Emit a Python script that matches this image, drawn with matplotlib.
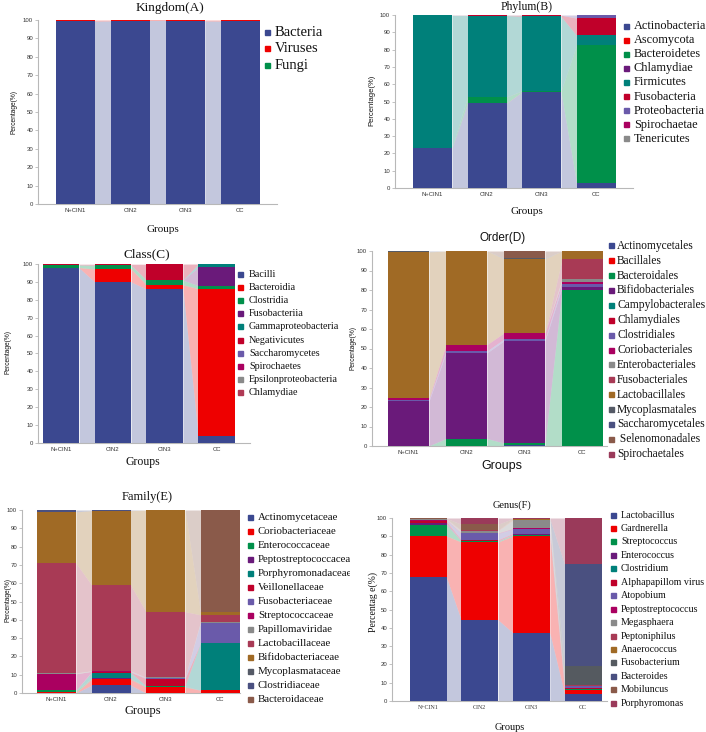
import numpy as np
import matplotlib
matplotlib.use("Agg")
import matplotlib.pyplot as plt
from matplotlib.patches import Rectangle
from matplotlib.transforms import Bbox, TransformedBbox

W, H = 706, 732
SERIF = "Liberation Serif"
SANS = "Liberation Sans"

groups = ["N+CIN1", "CIN2", "CIN3", "CC"]

# ---------------- data (percent, columns = groups) ----------------
A_taxa = ["Bacteria", "Viruses", "Fungi"]
A_values = [
    [99.4, 99.5, 99.5, 99.4],
    [0.6, 0.5, 0.5, 0.6],
    [0.0, 0.0, 0.0, 0.0],
]

B_taxa = ["Actinobacteria", "Ascomycota", "Bacteroidetes", "Chlamydiae", "Firmicutes",
          "Fusobacteria", "Proteobacteria", "Spirochaetae", "Tenericutes"]
B_values = [
    [23.0, 49.0, 55.5, 3.0],
    [0.1, 0.1, 0.1, 0.1],
    [0.2, 3.5, 0.5, 79.3],
    [0.1, 0.1, 0.1, 0.1],
    [76.4, 47.0, 43.0, 5.7],
    [0.1, 0.1, 0.7, 10.0],
    [0.1, 0.1, 0.1, 1.6],
    [0.0, 0.0, 0.0, 0.1],
    [0.0, 0.1, 0.0, 0.1],
]

C_taxa = ["Bacilli", "Bacteroidia", "Clostridia", "Fusobacteriia", "Gammaproteobacteria",
          "Negativicutes", "Saccharomycetes", "Spirochaetes", "Epsilonproteobacteria", "Chlamydiae"]
C_values = [
    [97.8, 90.0, 86.0, 4.1],
    [0.2, 7.2, 2.4, 82.1],
    [1.4, 2.0, 2.6, 1.7],
    [0.0, 0.0, 0.0, 10.2],
    [0.1, 0.1, 0.1, 1.8],
    [0.4, 0.6, 8.8, 0.1],
    [0.0, 0.0, 0.0, 0.0],
    [0.0, 0.0, 0.0, 0.0],
    [0.0, 0.0, 0.0, 0.0],
    [0.1, 0.1, 0.1, 0.0],
]

D_taxa = ["Actinomycetales", "Bacillales", "Bacteroidales", "Bifidobacteriales",
          "Campylobacterales", "Chlamydiales", "Clostridiales", "Coriobacteriales",
          "Enterobacteriales", "Fusobacteriales", "Lactobacillales", "Mycoplasmatales",
          "Saccharomycetales", " Selenomonadales", "Spirochaetales"]
D_values = [
    [0.0, 0.0, 0.3, 0.2],
    [0.0, 0.0, 0.0, 0.0],
    [0.1, 3.8, 1.2, 79.8],
    [22.9, 44.0, 52.4, 1.4],
    [0.0, 0.0, 0.0, 0.0],
    [0.0, 0.0, 0.0, 0.0],
    [0.8, 1.0, 1.0, 1.5],
    [0.7, 3.2, 3.1, 1.4],
    [0.0, 0.0, 0.0, 1.3],
    [0.0, 0.0, 0.0, 10.1],
    [75.0, 48.0, 38.0, 4.3],
    [0.3, 0.0, 0.4, 0.0],
    [0.2, 0.0, 0.0, 0.0],
    [0.0, 0.0, 3.6, 0.0],
    [0.0, 0.0, 0.0, 0.0],
]

E_taxa = ["Actinomycetaceae", "Coriobacteriaceae", "Enterococcaceae", "Peptostreptococcaceae",
          "Porphyromonadaceae", "Veillonellaceae", "Fusobacteriaceae", "Streptococcaceae",
          "Papillomaviridae", "Lactobacillaceae", "Bifidobacteriaceae", "Mycoplasmataceae",
          "Clostridiaceae", "Bacteroidaceae"]
E_values = [
    [0.0, 4.3, 0.0, 0.0],
    [0.3, 3.2, 3.3, 1.5],
    [1.2, 0.3, 0.4, 0.0],
    [0.0, 0.2, 0.1, 0.1],
    [0.0, 3.2, 0.1, 25.9],
    [0.0, 0.2, 4.0, 0.0],
    [0.0, 0.3, 0.3, 11.0],
    [9.0, 0.1, 0.1, 0.0],
    [0.5, 0.3, 0.2, 0.5],
    [60.0, 47.0, 36.0, 3.7],
    [28.0, 40.5, 55.5, 1.3],
    [0.0, 0.1, 0.0, 0.0],
    [1.0, 0.3, 0.0, 0.0],
    [0.0, 0.0, 0.0, 56.0],
]

F_taxa = ["Lactobacillus", "Gardnerella", "Streptococcus", "Enterococcus", "Clostridium",
          "Alphapapillom virus", "Atopobium", "Peptostreptococcus", "Megasphaera",
          "Peptoniphilus", "Anaerococcus", "Fusobacterium", "Bacteroides", "Mobiluncus",
          "Porphyromonas"]
F_values = [
    [67.6, 44.3, 37.3, 4.0],
    [22.6, 42.6, 52.9, 2.2],
    [6.2, 0.5, 0.6, 0.1],
    [0.8, 0.3, 0.3, 0.1],
    [0.1, 0.0, 0.0, 0.0],
    [0.8, 0.5, 0.4, 0.8],
    [0.5, 3.4, 2.5, 1.0],
    [0.4, 0.3, 0.3, 0.1],
    [0.3, 1.2, 4.6, 0.0],
    [0.2, 0.2, 0.2, 0.2],
    [0.1, 0.1, 0.4, 0.5],
    [0.0, 0.0, 0.0, 10.3],
    [0.0, 0.0, 0.0, 55.4],
    [0.2, 3.2, 0.2, 0.0],
    [0.2, 3.4, 0.3, 25.3],
]

# ---------------- palette ----------------
PAL = ["#3b4890", "#ee0000", "#00904a", "#6a1a7a", "#00807a", "#c0002a",
       "#6a5aaa", "#aa0060", "#8a8a8a", "#a83a55", "#a06a25", "#555a66",
       "#4a5080", "#8a5a4a", "#9a3a5a"]
A_colors = PAL[:3]
B_colors = PAL[:9]
C_colors = PAL[:9] + ["#b03a55"]
D_colors = PAL[:15]
E_colors = PAL[:14]
F_colors = PAL[:11] + ["#555a60", "#4a5080", "#8a5a4a", "#9a3a5a"]

fig = plt.figure(figsize=(W / 100, H / 100), dpi=100)
fig.patch.set_facecolor("white")


def fx(x):
    return x / W


def fy(y):
    return 1 - y / H


def panel(l, t, r, b, centers, bw, values, colors, xlab_family=SANS, tick_fs=4.3):
    ax = fig.add_axes([fx(l), fy(b), (r - l) / W, (b - t) / H])
    vals = np.array(values, dtype=float)
    sp = (centers[-1] - centers[0]) / 3.0
    x0 = centers[0]
    ax.set_xlim((l - x0) / sp, (r - x0) / sp)
    w = bw / sp
    tops = np.cumsum(vals, axis=0)
    bots = tops - vals
    xs = np.arange(4)
    for i in range(vals.shape[0]):
        ax.bar(xs, vals[i], bottom=bots[i], width=w, color=colors[i], linewidth=0, zorder=3)
        for j in range(3):
            ax.fill_between([j + w / 2, j + 1 - w / 2], [bots[i, j], bots[i, j + 1]],
                            [tops[i, j], tops[i, j + 1]], color=colors[i], alpha=0.3,
                            linewidth=0, zorder=2)
    ax.set_ylim(0, 100)
    ax.set_yticks(range(0, 101, 10))
    ax.set_xticks(xs)
    ax.set_xticklabels(groups, fontsize=tick_fs, family=xlab_family, color="#333333")
    for lab in ax.get_yticklabels():
        lab.set_fontsize(tick_fs)
        lab.set_family(SANS)
        lab.set_color("#333333")
    for s in ["top", "right"]:
        ax.spines[s].set_visible(False)
    for s in ["left", "bottom"]:
        ax.spines[s].set_color("#b8b8b8")
        ax.spines[s].set_linewidth(0.8)
    ax.tick_params(axis="y", length=2, width=0.6, color="#b8b8b8", pad=1.5)
    ax.tick_params(axis="x", length=0, pad=3)
    return ax


def legend(names, colors, mx, tx, y0, dy, fs, msz=5, clip=None):
    for k, (n, c) in enumerate(zip(names, colors)):
        y = y0 + k * dy
        fig.patches.append(Rectangle((fx(mx - msz / 2), fy(y + msz / 2)), msz / W, msz / H,
                                     transform=fig.transFigure, color=c, figure=fig))
        t = fig.text(fx(tx), fy(y), n, fontsize=fs, family=SERIF, va="center", ha="left",
                     color="#111111")
        if clip is not None:
            t.set_clip_box(TransformedBbox(Bbox.from_extents(0, 0, fx(clip), 1), fig.transFigure))
            t.set_clip_on(True)


def label(x, y, s, fs, family=SERIF, rot=0, weight="normal"):
    fig.text(fx(x), fy(y), s, fontsize=fs, family=family, rotation=rot, ha="center",
             va="center", color="#111111", weight=weight)


# Panel A
panel(38, 20, 277, 204, [75, 130, 185, 240.5], 39, A_values, A_colors)
label(170, 8, "Kingdom(A)", 9.5)
label(14, 112, "Percentage(%)", 4.8, SANS, 90)
label(163, 230, "Groups", 8)
legend(A_taxa, A_colors, 267, 275, 32, 16.5, 10.5, msz=5)

# Panel B
panel(395, 15, 633, 188, [432.5, 487.5, 541.5, 596], 39, B_values, B_colors)
label(527, 7, "Phylum(B)", 8.5)
label(372, 100, "Percentage(%)", 5.5, SANS, 90)
label(527, 211, "Groups", 8)
legend(B_taxa, B_colors, 626, 634, 26, 14.1, 8.8, msz=5)

# Panel C
panel(38, 264, 250, 443, [61, 113, 164.5, 216.5], 36.5, C_values, C_colors)
label(147, 254, "Class(C)", 9.5)
label(8, 352, "Percentage(%)", 4.8, SANS, 90)
label(143, 462, "Groups", 8.5)
legend(C_taxa, C_colors, 240, 249, 274.3, 13.15, 7.3, msz=5)

# Panel D
panel(372, 251, 607, 446, [408.5, 466.5, 524, 582.5], 41, D_values, D_colors)
label(503, 238, "Order(D)", 8.5, SANS)
label(353, 348, "Percentage(%)", 4.8, SANS, 90)
label(502, 466, "Groups", 9, SANS)
legend(D_taxa, D_colors, 611, 617, 245.7, 14.9, 8.3, msz=5)

# Panel E
panel(22, 510, 240, 693, [56.5, 110, 166, 220], 39, E_values, E_colors)
label(147, 497, "Family(E)", 9)
label(8, 600, "Percentage(%)", 4.8, SANS, 90)
label(143, 711, "Groups", 9)
legend(E_taxa, E_colors, 250, 258, 517.3, 14.0, 7.8, msz=5, clip=350)

# Panel F
panel(392, 518, 607, 701, [428, 479.5, 531.5, 583], 37, F_values, F_colors, xlab_family=SERIF)
label(512, 505, "Genus(F)", 7.5)
label(373, 602, "Percentag e(%)", 7, SERIF, 90)
label(510, 727, "Groups", 7.5)
legend(F_taxa, F_colors, 613, 621, 515, 13.45, 7.2, msz=5)

fig.savefig("out.png", dpi=100, facecolor="white")
